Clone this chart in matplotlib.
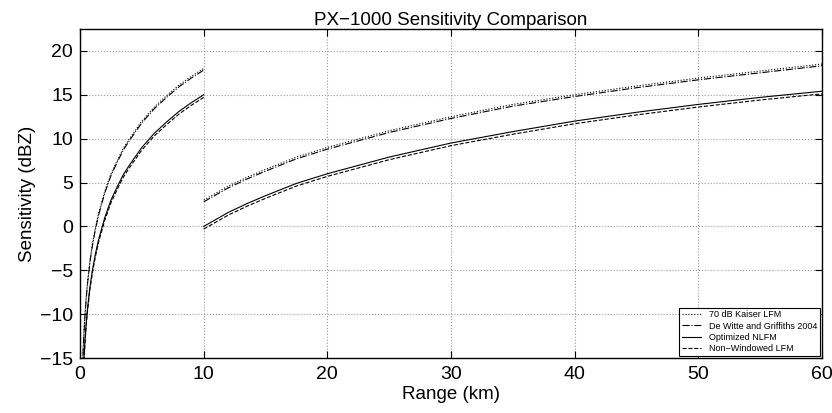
import numpy as np
import matplotlib
matplotlib.use("Agg")
import matplotlib.pyplot as plt

plt.rcParams['font.family'] = ['Liberation Sans', 'DejaVu Sans']

# range samples (km) for the two pulse segments
range_short = [0.15, 0.2, 0.25, 0.3, 0.4, 0.5, 0.6, 0.8, 1.0, 1.25, 1.5, 2, 2.5, 3, 3.5, 4, 5, 6, 7, 8, 9, 10]
range_long = [10, 11, 12, 13.5, 15, 17.5, 20, 25, 30, 35, 40, 45, 50, 55, 60]

# sensitivity (dBZ)
kaiser_short = [-18.5, -16.0, -14.0, -12.5, -10.0, -8.0, -6.4, -3.9, -2.0, -0.1, 1.5, 4.0, 6.0, 7.5, 8.9,
                10.0, 12.0, 13.6, 14.9, 16.1, 17.1, 18.0]
kaiser_long = [3.0, 3.8, 4.6, 5.6, 6.5, 7.9, 9.0, 10.9, 12.5, 13.9, 15.0, 16.0, 16.9, 17.7, 18.5]
dewitte_short = [-18.7, -16.2, -14.2, -12.7, -10.2, -8.2, -6.6, -4.1, -2.2, -0.3, 1.3, 3.8, 5.8, 7.3, 8.7,
                 9.8, 11.8, 13.4, 14.7, 15.9, 16.9, 17.8]
dewitte_long = [2.8, 3.6, 4.4, 5.4, 6.3, 7.7, 8.8, 10.7, 12.3, 13.7, 14.8, 15.8, 16.7, 17.5, 18.3]
optimized_short = [-21.5, -19.0, -17.0, -15.5, -13.0, -11.0, -9.4, -6.9, -5.0, -3.1, -1.5, 1.0, 3.0, 4.5, 5.9,
                   7.0, 9.0, 10.6, 11.9, 13.1, 14.1, 15.0]
optimized_long = [0.0, 0.8, 1.6, 2.6, 3.5, 4.9, 6.0, 7.9, 9.5, 10.8, 12.0, 13.0, 13.9, 14.7, 15.4]
nonwin_short = [-21.8, -19.3, -17.3, -15.8, -13.3, -11.3, -9.7, -7.2, -5.3, -3.4, -1.8, 0.7, 2.7, 4.2, 5.6,
                6.7, 8.7, 10.3, 11.6, 12.8, 13.8, 14.7]
nonwin_long = [-0.3, 0.5, 1.3, 2.3, 3.2, 4.6, 5.7, 7.6, 9.2, 10.5, 11.7, 12.7, 13.6, 14.4, 15.1]

series = [
    ("70 dB Kaiser LFM", kaiser_short, kaiser_long, ':'),
    ("De Witte and Griffiths 2004", dewitte_short, dewitte_long, '-.'),
    ("Optimized NLFM", optimized_short, optimized_long, '-'),
    ("Non\u2212Windowed LFM", nonwin_short, nonwin_long, '--'),
]


def main():
    fig = plt.figure(figsize=(8.32, 4.13), dpi=100)
    ax = fig.add_axes([0.0962, 0.133, 0.8918, 0.797])

    for label, short, long_, ls in series:
        ax.plot(range_short, short, ls, color='black', lw=0.8, label=label)
        ax.plot(range_long, long_, ls, color='black', lw=0.8)

    ax.set_xlim(0, 60)
    ax.set_ylim(-15, 22.5)
    ax.set_xticks(np.arange(0, 61, 10))
    ax.set_yticks(np.arange(-15, 21, 5))
    ax.set_yticklabels([str(v).replace('-', '\u2212') for v in range(-15, 21, 5)])
    ax.grid(True, linestyle=':', color='#999999', lw=0.8)
    ax.tick_params(direction='in', top=True, right=True, labelsize=14, length=5)
    ax.tick_params(axis='x', pad=6)
    ax.tick_params(axis='y', pad=5)
    for s in ax.spines.values():
        s.set_linewidth(1.0)

    ax.set_title("PX\u22121000 Sensitivity Comparison", fontsize=13.5, pad=3)
    ax.set_xlabel("Range (km)", fontsize=13.5, labelpad=2)
    ax.set_ylabel("Sensitivity (dBZ)", fontsize=13.5, labelpad=3)

    leg = ax.legend(loc='lower right', fontsize=6.5, fancybox=False, framealpha=1,
                    edgecolor='black', borderaxespad=0.25, handlelength=2.2,
                    labelspacing=0.25, borderpad=0.3)
    leg.get_frame().set_linewidth(0.8)

    fig.savefig("out.png", dpi=100)


if __name__ == '__main__':
    main()
